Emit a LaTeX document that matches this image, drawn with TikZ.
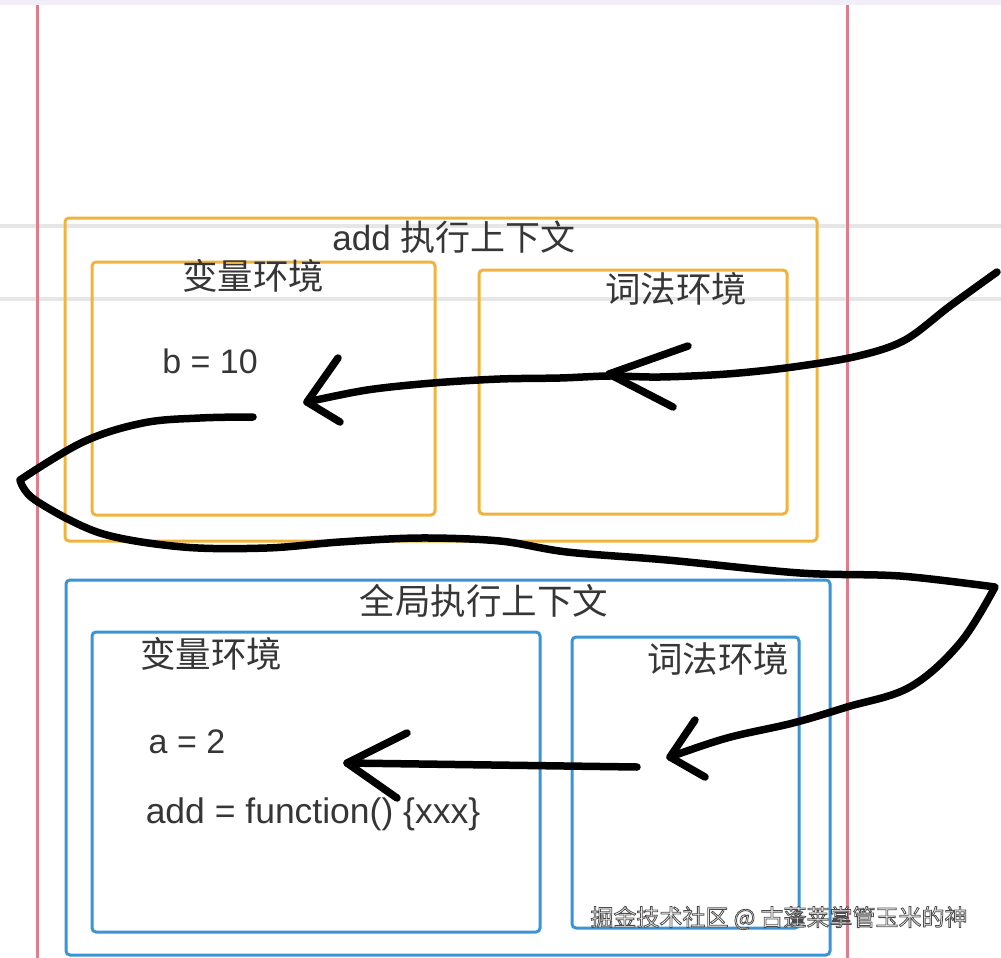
\documentclass[tikz,border=0pt]{standalone}
\usepackage{fontspec}
\setmainfont{Liberation Sans}
\newfontfamily\cjk{Noto Sans CJK SC}
\definecolor{ora}{HTML}{F0B43C}
\definecolor{blu}{HTML}{3A94D6}
\definecolor{redl}{HTML}{E07C8C}
\definecolor{txt}{HTML}{363636}
\definecolor{band}{HTML}{F1EEF8}
\definecolor{gline}{HTML}{E6E6E6}
\begin{document}
\begin{tikzpicture}[x=1pt,y=-1pt,
  obox/.style={draw=ora, line width=3pt, rounded corners=4pt, anchor=north west, inner sep=0pt, outer sep=0pt},
  bbox/.style={draw=blu, line width=3pt, rounded corners=4pt, anchor=north west, inner sep=0pt, outer sep=0pt},
  lbl/.style={text=txt, font=\fontsize{34}{40}\selectfont, inner sep=0pt},
  clbl/.style={text=txt, font=\cjk\fontsize{35.5}{40}\selectfont, inner sep=0pt},
  pen/.style={draw=black, line width=7.5pt, line cap=round, line join=round},
  guide/.style={draw=gline, line width=3.5pt},
  redguide/.style={draw=redl, line width=3pt}]
\useasboundingbox (0,0) rectangle (1001,958);
\fill[white] (0,0) rectangle (1001,958);
\fill[band] (0,0) rectangle (1001,5);
% guide lines
\coordinate (g1l) at (0,226); \coordinate (g1r) at (1001,226);
\coordinate (g2l) at (0,299); \coordinate (g2r) at (1001,299);
\draw[guide] (g1l) -- (g1r);
\draw[guide] (g2l) -- (g2r);
\coordinate (r1t) at (37,5); \coordinate (r1b) at (37,958);
\coordinate (r2t) at (847,5); \coordinate (r2b) at (847,958);
\draw[redguide] (r1t) -- (r1b);
\draw[redguide] (r2t) -- (r2b);
% boxes
\node[obox, minimum width=752pt, minimum height=323pt] (addctx) at (65,218) {};
\node[obox, minimum width=343pt, minimum height=253pt] (addvar) at (92,262) {};
\node[obox, minimum width=308pt, minimum height=244pt] (addlex) at (479,270) {};
\node[bbox, minimum width=764pt, minimum height=375pt] (glbctx) at (66,580) {};
\node[bbox, minimum width=448pt, minimum height=300pt] (glbvar) at (92,632) {};
\node[bbox, minimum width=227pt, minimum height=291pt] (glblex) at (572,637) {};
% labels
\node[lbl, font=\fontsize{35}{40}\selectfont] (t1) at (454,237) {add {\cjk 执行上下文}};
\node[clbl] (t2) at (253,276) {变量环境};
\node[clbl] (t3) at (676,289) {词法环境};
\node[lbl] (t4) at (210,361) {b = 10};
\node[clbl] (t5) at (484,601) {全局执行上下文};
\node[clbl] (t6) at (211,654) {变量环境};
\node[clbl] (t7) at (718,659) {词法环境};
\node[lbl] (t8) at (187,742) {a = 2};
\node[lbl, font=\fontsize{35.5}{40}\selectfont] (t9) at (313,814) {add = function() \{xxx\}};
% stroke 1
\coordinate (s1a) at (997,272);
\coordinate (s1tip1) at (609,374);
\coordinate (s1tip2) at (307,402);
\draw[pen] plot[smooth, tension=0.55] coordinates {(s1a) (950,306) (905,340) (858,356) (793,367) (727,374) (660,377) (609,376) (560,378) (500,379) (433,383) (367,390) (s1tip2)};
\coordinate (h1u) at (688,346); \coordinate (h1l) at (673,407);
\draw[pen] (h1u) -- (s1tip1) -- (h1l);
\coordinate (h2u) at (338,358); \coordinate (h2l) at (340,422);
\draw[pen] (h2u) -- (s1tip2) -- (h2l);
% stroke 2
\coordinate (s2a) at (253,417);
\coordinate (s2l) at (20,480);
\coordinate (s2r) at (995,587);
\coordinate (s2tip) at (670,757);
\draw[pen] plot[smooth, tension=0.6] coordinates {(s2a) (200,418) (143,423) (83,442) (s2l)}
  -- plot[smooth, tension=0.55] coordinates {(s2l) (35,500) (100,533) (183,547) (267,548) (340,542) (420,538) (500,541) (567,552) (667,560) (800,573) (900,576) (s2r)}
  -- plot[smooth, tension=0.6] coordinates {(s2r) (960,643) (910,687) (847,707) (793,723) (727,738) (s2tip)};
\coordinate (h3u) at (695,720); \coordinate (h3l) at (705,777);
\draw[pen] (h3u) -- (s2tip) -- (h3l);
% stroke 3
\coordinate (s3a) at (637,767);
\coordinate (s3tip) at (347,763);
\draw[pen] (s3a) -- (s3tip);
\coordinate (h4u) at (407,733); \coordinate (h4l) at (397,798);
\draw[pen] (h4u) -- (s3tip) -- (h4l);
% watermark
\node[text=white, inner sep=0pt, font=\cjk\fontsize{23}{26}\selectfont] (wm) at (779,918) {\special{pdf:literal direct 2 Tr 0.8 w 0.3 0.3 0.3 RG}掘金技术社区 @ 古蓬莱掌管玉米的神\special{pdf:literal direct 0 Tr}};
\end{tikzpicture}
\end{document}
